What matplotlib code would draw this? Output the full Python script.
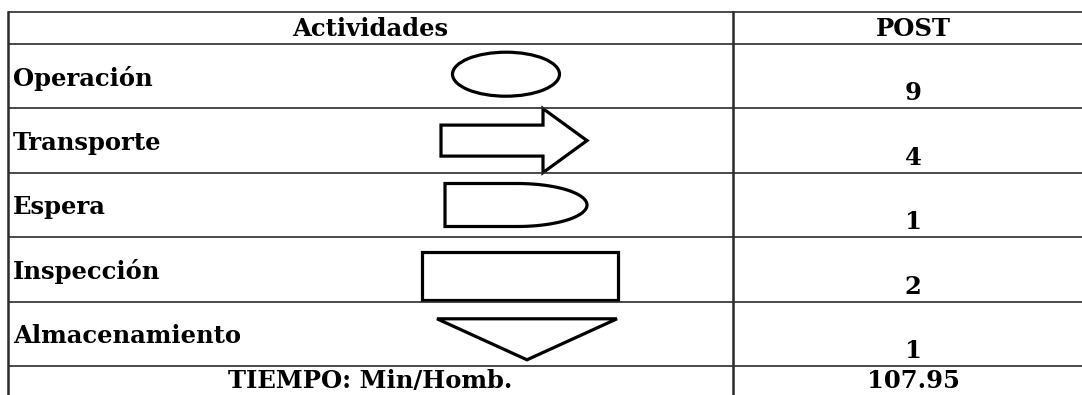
import matplotlib
matplotlib.use("Agg")
import matplotlib.pyplot as plt
from matplotlib.patches import Ellipse, Rectangle, Polygon
import numpy as np

# table content
header = ["Actividades", "POST"]
actividades = ["Operación", "Transporte", "Espera", "Inspección", "Almacenamiento"]
post = [9, 4, 1, 2, 1]
tiempo_label = "TIEMPO: Min/Homb."
tiempo_valor = "107.95"

W, H = 1082, 395
fig = plt.figure(figsize=(W / 100, H / 100), dpi=100)
ax = fig.add_axes([0, 0, 1, 1])
ax.set_xlim(0, W)
ax.set_ylim(H, 0)
ax.axis("off")

# layout (pixels)
x_left, x_div, x_right = 8, 733, W
y_top, y_head = 12, 44
row_h = 64.4
row_edges = [y_head + row_h * i for i in range(len(actividades) + 1)]
y_bottom = H + 5

font = dict(family=["DejaVu Serif"], weight="bold", fontsize=17.5, color="black")
line_kw = dict(color="#2b2b2b", lw=1.2, solid_capstyle="butt")
shape_kw = dict(fill=False, edgecolor="black", lw=2.3, joinstyle="miter")

# grid lines
for y in [y_top] + row_edges:
    ax.plot([x_left, x_right], [y, y], **line_kw)
ax.plot([x_left, x_left], [y_top, y_bottom], color="#2b2b2b", lw=1.8)
ax.plot([x_div, x_div], [y_top, y_bottom], color="#2b2b2b", lw=1.8)

# header
ax.text((x_left + x_div) / 2, (y_top + y_head) / 2 + 1, header[0], ha="center", va="center", **font)
ax.text(913, (y_top + y_head) / 2 + 1, header[1], ha="center", va="center", **font)

# rows
for i, (name, val) in enumerate(zip(actividades, post)):
    top, bot = row_edges[i], row_edges[i + 1]
    cy = (top + bot) / 2
    ax.text(13, cy + 2, name, ha="left", va="center", **font)
    ax.text(913, bot - 15, str(val), ha="center", va="center", **font)

    if name == "Operación":
        ax.add_patch(Ellipse((506, cy - 2), 107, 44, **shape_kw))
    elif name == "Transporte":
        pts = [(441, cy - 15.5), (543, cy - 15.5), (543, cy - 32), (587, cy),
               (543, cy + 32), (543, cy + 15.5), (441, cy + 15.5)]
        ax.add_patch(Polygon(pts, closed=True, **shape_kw))
    elif name == "Espera":
        th = np.linspace(-np.pi / 2, np.pi / 2, 60)
        arc = [(517 + 70 * np.cos(t), cy + 21.5 * np.sin(t)) for t in th]
        pts = [(445, cy - 21.5)] + arc + [(445, cy + 21.5)]
        ax.add_patch(Polygon(pts, closed=True, **shape_kw))
    elif name == "Inspección":
        ax.add_patch(Rectangle((422, cy - 17), 196, 48, **shape_kw))
    elif name == "Almacenamiento":
        pts = [(437, cy - 15), (617, cy - 15), (527, cy + 26)]
        ax.add_patch(Polygon(pts, closed=True, **shape_kw))

# total row
yb = row_edges[-1] + 15
ax.text((x_left + x_div) / 2, yb, tiempo_label, ha="center", va="center", **font)
ax.text(913, yb, tiempo_valor, ha="center", va="center", **font)

fig.savefig("out.png", dpi=100, facecolor="white")
